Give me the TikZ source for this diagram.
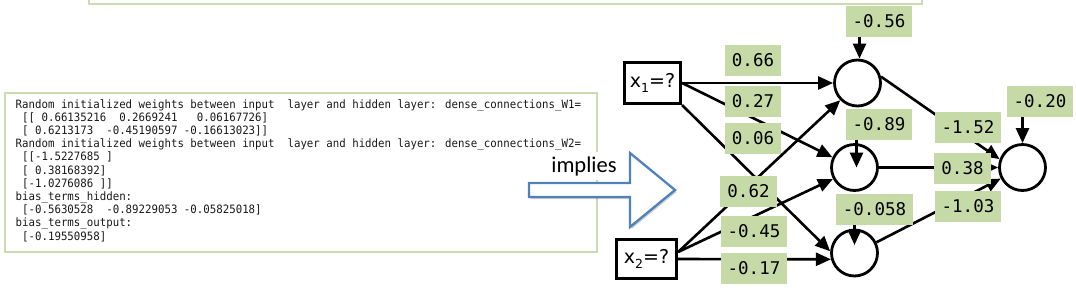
\documentclass[tikz,border=0pt]{standalone}
\usepackage{fontspec}
\setmainfont{DejaVu Sans}
\newfontfamily\codefont{DejaVu Sans Mono}[WordSpace={1,0,0}]
\newfontfamily\codenarrow{DejaVu Sans Mono}[WordSpace={1,0,0},FakeStretch=0.935]
\newfontfamily\impfont{Carlito}
\usetikzlibrary{arrows.meta,shadows}
\definecolor{labgreen}{RGB}{198,218,168}
\definecolor{boxgreen}{RGB}{202,221,176}
\definecolor{arrblue}{RGB}{79,129,189}
\definecolor{codegray}{RGB}{25,25,25}
\begin{document}
\begin{tikzpicture}[x=1pt,y=-1pt,
  wlab/.style={fill=labgreen, font=\codefont\fontsize{17.5}{17.5}\selectfont,
    inner xsep=7pt, inner ysep=0pt, minimum height=31pt,
    text height=12.7pt, text depth=0pt},
  neuron/.style={circle, draw, line width=2.8pt, minimum size=46pt, inner sep=0pt},
  inbox/.style={draw, line width=3.2pt, inner sep=0pt,
    font=\fontsize{19}{19}\selectfont},
  edge/.style={line width=2.6pt, -{Triangle[length=15pt,width=13pt]}},
  codebox/.style={draw=boxgreen, line width=2.5pt}]
\useasboundingbox (0,0) rectangle (1076,290);

% cropped box at the top
\draw[codebox] (89,-10) rectangle (922,4);

% code output box
\draw[codebox] (5,93) rectangle (597,252);
\node[anchor=north west, align=left, inner sep=0pt, text=codegray,
  font=\codenarrow\fontsize{11.5}{13.2}\selectfont] (code) at (15.5,99) {%
Random initialized weights between input~~layer and hidden layer: dense\_connections\_W1=\\
~[[~0.66135216~~0.2669241~~~0.06167726]\\
~[~0.6213173~~-0.45190597~-0.16613023]]\\
Random initialized weights between input~~layer and hidden layer: dense\_connections\_W2=\\
~[[-1.5227685~]\\
~[~0.38168392]\\
~[-1.0276086~]]\\
bias\_terms\_hidden:\\
~[-0.5630528~~-0.89229053~-0.05825018]\\
bias\_terms\_output:\\
~[-0.19550958]};

% implies arrow
\node[fill=white, inner xsep=4pt, inner ysep=0pt, minimum height=28pt,
  font=\impfont\fontsize{22.5}{22.5}\selectfont] (imp) at (584,166) {implies};
\draw[arrblue, line width=2.3pt, fill=white,
  drop shadow={fill=black, opacity=0.2, shadow xshift=1.5pt, shadow yshift=-2pt}]
  (529,183) -- (630,183) -- (630,153) -- (675,190) -- (630,227)
  -- (630,197) -- (529,197) -- cycle;

% network nodes
\node[inbox, minimum width=56pt, minimum height=41pt] (x1) at (652.5,83)
  {x\raisebox{-5pt}{\fontsize{12.5}{12.5}\selectfont 1}=?};
\node[inbox, minimum width=60pt, minimum height=39pt] (x2) at (646.5,259)
  {x\raisebox{-5pt}{\fontsize{12.5}{12.5}\selectfont 2}=?};
\node[neuron] (H1) at (857.5,83) {};
\node[neuron] (H2) at (854.5,167.5) {};
\node[neuron] (H3) at (854.5,253) {};
\node[neuron] (O) at (1022.5,167.5) {};

% connections
\draw[edge] (x1.east) -- (H1.west);
\draw[edge] (x1.east) -- (H2.155);
\draw[edge] (x1.south east) -- (H3.176);
\draw[edge] ([yshift=7pt]x2.east) -- (H1.225);
\draw[edge] ([yshift=7pt]x2.east) -- (H2.208);
\draw[edge] (x2.east) -- (H3.195);
\draw[edge] (H1.15) -- (O.160);
\draw[edge] (H2.east) -- (O.west);
\draw[edge] (H3.26) -- (O.207);

% weight and bias labels
\node[wlab] (w11) at (753,60) {0.66};
\node[wlab] (w12) at (753,101.5) {0.27};
\node[wlab] (w13) at (753,138.5) {0.06};
\node[wlab] (w21) at (748.5,191) {0.62};
\node[wlab] (w22) at (754,231.5) {-0.45};
\node[wlab] (w23) at (754,268.5) {-0.17};
\node[wlab] (b1) at (879,21.5) {-0.56};
\node[wlab] (b2) at (879,124) {-0.89};
\node[wlab] (b3) at (874.5,209.5) {-0.058};
\node[wlab] (v1) at (968,127.5) {-1.52};
\node[wlab] (v2) at (962.5,168.5) {0.38};
\node[wlab] (v3) at (968,206) {-1.03};
\node[wlab] (b4) at (1040,101.5) {-0.20};

% bias arrows
\draw[edge] ([xshift=2pt]H1.north |- b1.south) -- ([xshift=2pt]H1.north);
\draw[edge] ([xshift=2pt]H2.center |- b2.south) -- ([xshift=2pt]H2.center);
\draw[edge] (H3.center |- b3.south) -- ([yshift=8pt]H3.center);
\draw[edge] (O.north |- b4.south) -- (O.north);
\end{tikzpicture}
\end{document}
